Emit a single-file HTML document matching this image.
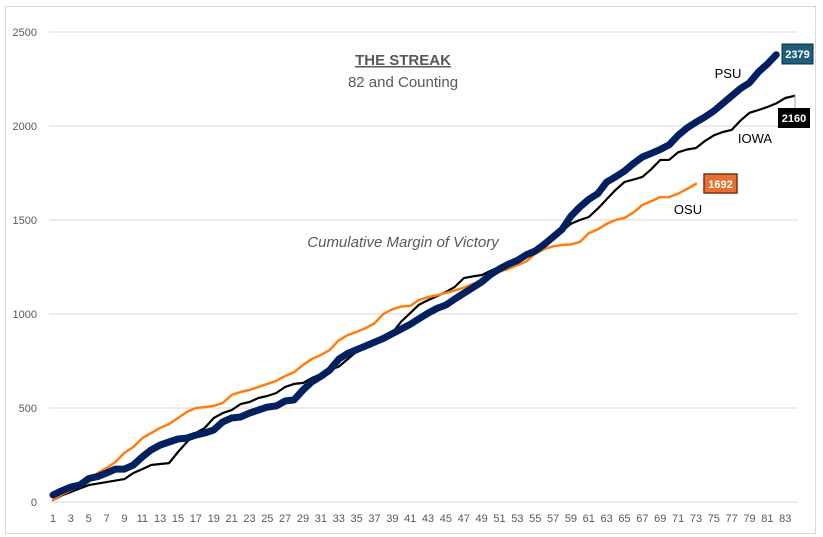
<!DOCTYPE html>
<html><head><meta charset="utf-8"><style>
body{margin:0;background:#fff;}
svg{display:block;font-family:"Liberation Sans",sans-serif;}
</style></head><body>
<svg id="chart" width="823" height="537">
<rect x="5.5" y="6.5" width="810" height="527" fill="#fff" stroke="#d9d9d9"/>
<g id="grid"></g><g id="yticks"></g><g id="xticks"></g><g id="series"></g>
<text x="403" y="65" text-anchor="middle" font-size="15" font-weight="bold" fill="#595959" text-decoration="underline">THE STREAK</text>
<text x="403" y="87" text-anchor="middle" font-size="15" fill="#595959">82 and Counting</text>
<text x="403" y="247" text-anchor="middle" font-size="15" font-style="italic" fill="#595959">Cumulative Margin of Victory</text>
<text x="728" y="78" text-anchor="middle" font-size="13" fill="#000">PSU</text>
<text x="755" y="143" text-anchor="middle" font-size="13" fill="#000">IOWA</text>
<text x="688" y="214" text-anchor="middle" font-size="13" fill="#000">OSU</text>
<line x1="795" y1="94" x2="795" y2="108" stroke="#a6a6a6"/>
<rect x="782" y="44" width="31" height="20" fill="#1f5d7a" stroke="#0d2a3a"/>
<text x="797.5" y="58" text-anchor="middle" font-size="11" font-weight="bold" fill="#fff">2379</text>
<rect x="778" y="108" width="32" height="20" fill="#000"/>
<text x="794" y="122" text-anchor="middle" font-size="11" font-weight="bold" fill="#fff">2160</text>
<rect x="704" y="174" width="33" height="19" fill="#e8702f" stroke="#7a3310" stroke-width="1.5"/>
<text x="720.5" y="188" text-anchor="middle" font-size="11" font-weight="bold" fill="#fff">1692</text>
</svg>
<script>
const yTicks=[0,500,1000,1500,2000,2500];
const psu=[37,60,80,90,125,135,154,175,175,197,240,277,303,319,335,340,356,367,383,426,447,452,473,489,505,511,537,543,596,640,668,702,760,790,810,830,850,870,895,920,945,975,1005,1030,1048,1080,1110,1140,1170,1210,1240,1265,1285,1315,1335,1370,1410,1450,1520,1569,1610,1640,1702,1730,1760,1800,1835,1855,1875,1900,1950,1990,2020,2048,2080,2120,2160,2200,2230,2287,2330,2379];
const iowa=[10,35,53,72,90,98,106,114,122,154,175,197,202,207,266,319,367,394,447,473,489,521,532,553,564,580,612,628,633,660,680,702,720,760,800,820,840,862,900,960,1005,1050,1074,1095,1117,1144,1191,1200,1207,1230,1250,1260,1290,1320,1330,1360,1393,1440,1480,1500,1516,1560,1610,1660,1702,1715,1729,1770,1819,1820,1860,1875,1883,1920,1950,1968,1979,2030,2070,2085,2101,2120,2149,2160];
const osu=[10,40,64,85,106,154,181,213,261,293,340,367,394,415,447,479,500,505,511,527,569,585,596,612,628,644,670,691,729,761,782,809,860,888,905,925,950,1000,1025,1040,1043,1075,1090,1100,1112,1125,1140,1160,1175,1200,1225,1240,1260,1280,1320,1345,1360,1367,1370,1383,1430,1450,1480,1500,1511,1540,1580,1600,1622,1622,1640,1665,1692];
const nCats=84;
const NS="http://www.w3.org/2000/svg";
function X(i){return 53+(i-1)*8.93;}
function Y(v){return 502-v*0.188;}
function mk(tag,attrs,parent){const e=document.createElementNS(NS,tag);for(const k in attrs)e.setAttribute(k,attrs[k]);parent.appendChild(e);return e;}
const grid=document.getElementById('grid'),yt=document.getElementById('yticks'),xt=document.getElementById('xticks'),ser=document.getElementById('series');
yTicks.forEach(v=>{
  const l=mk('line',{x1:49,x2:798,y1:Y(v),y2:Y(v),stroke:'#d9d9d9','stroke-width':1},grid);
  
  
  const t=mk('text',{x:37,y:Y(v)+4,'text-anchor':'end','font-size':11,fill:'#595959'},yt);
  t.textContent=v;
  
  
});
for(let i=1;i<=nCats;i+=2){
  const t=mk('text',{x:X(i),y:522,'text-anchor':'middle','font-size':11,fill:'#595959'},xt);
  t.textContent=i;
  
  
}
function line(data,color,w,name){
  const d=data.map((v,i)=>(i?'L':'M')+X(i+1).toFixed(1)+' '+Y(v).toFixed(1)).join(' ');
  const p=mk('path',{d:d,fill:'none',stroke:color,'stroke-width':w,'stroke-linejoin':'round','stroke-linecap':'round'},ser);
  
  
}
line(iowa,'#000',2.2,'iowa-line');
line(osu,'#ff7f0e',2.5,'osu-line');
line(psu,'#002060',7,'psu-line');
</script>
</body></html>
